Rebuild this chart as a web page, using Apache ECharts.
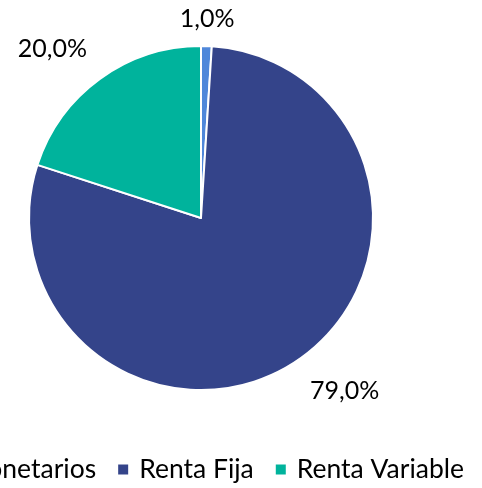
<!DOCTYPE html>
<html>
<head>
<meta charset="utf-8">
<script src="https://cdn.jsdelivr.net/npm/echarts@6/dist/echarts.min.js"></script>
<style>
  html, body { margin: 0; padding: 0; background: #fff; }
  #box { width: 482px; height: 488px; }
</style>
</head>
<body>
<div id="box"></div>
<script>
// datos de la cartera
var categorias = ['Monetarios', 'Renta Fija', 'Renta Variable'];
var valores = [1.0, 79.0, 20.0];
var colores = ['#4F87DA', '#34448A', '#00B39C'];

var myChart = echarts.init(document.getElementById('box'));

var datos = [];
for (var i = 0; i < categorias.length; i++) {
    datos.push({ name: categorias[i], value: valores[i], itemStyle: { color: colores[i] } });
}

// alineacion de etiquetas segun el cuadrante
var alinear = [
    { align: 'center', verticalAlign: 'bottom', dy: 7 },
    { align: 'left', verticalAlign: 'top' },
    { align: 'right', verticalAlign: 'bottom' }
];

var option = {
    animation: false,
    legend: {
        bottom: 0,
        right: 13,
        width: 1200,
        icon: 'rect',
        itemWidth: 12,
        itemHeight: 12,
        itemGap: 20,
        textStyle: {
            fontFamily: 'Lato',
            fontSize: 26.5,
            color: '#000',
            padding: [0, 0, 0, 5]
        },
        data: categorias
    },
    series: [
        {
            type: 'pie',
            center: [201, 218],
            radius: 172,
            startAngle: 90,
            clockwise: true,
            avoidLabelOverlap: false,
            itemStyle: { borderColor: '#fff', borderWidth: 2 },
            label: {
                position: 'outside',
                fontFamily: 'Lato',
                fontSize: 25,
                color: '#000',
                distanceToLabelLine: 0,
                formatter: function (p) {
                    return p.value.toFixed(1).replace('.', ',') + '%';
                }
            },
            labelLine: { show: false, length: 22, length2: 0 },
            labelLayout: function (params) {
                return alinear[params.dataIndex];
            },
            data: datos
        }
    ]
};
myChart.setOption(option);
</script>
</body>
</html>
